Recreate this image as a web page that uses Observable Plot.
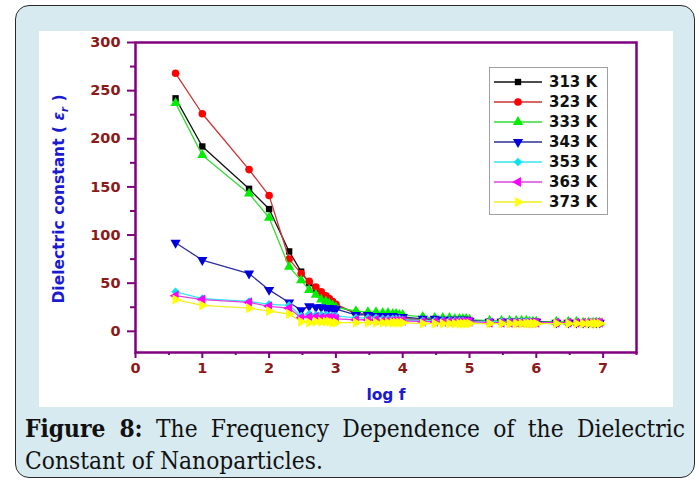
<!DOCTYPE html>
<html>
<head>
<meta charset="utf-8">
<script src="https://cdn.jsdelivr.net/npm/d3@7"></script>
<script src="https://cdn.jsdelivr.net/npm/@observablehq/plot@0.6"></script>
<style>
  html, body { margin: 0; padding: 0; width: 699px; height: 481px; overflow: hidden; background: #ffffff; }
  #outer { position: absolute; left: 15px; top: 5px; width: 678px; height: 471px; border: 1.5px solid #2a2a2a; border-radius: 14px; background: #d6eaf0; }
  #panel { position: absolute; left: 39px; top: 31px; width: 634px; height: 376px; background: #ffffff; }
  #ylabel { position: absolute; left: 60px; top: 199px; transform: translate(-50%, -50%) rotate(-90deg); white-space: nowrap; font: bold 15.5px "DejaVu Sans", sans-serif; color: #1a1ad0; }
  #ylabel sub { font-size: 10px; }
  #legend { position: absolute; left: 489px; top: 67px; }
  #caption { position: absolute; left: 25px; top: 413px; width: 660px; font-family: "DejaVu Serif Condensed", "DejaVu Serif", serif; font-stretch: semi-condensed; font-size: 21px; line-height: 32px; color: #111; }
  #caption .l1 { text-align: justify; text-align-last: justify; white-space: nowrap; }
  #caption .l2 { white-space: nowrap; }
</style>
</head>
<body>
<div id="outer"></div>
<div id="panel"></div>
<div id="ylabel">Dielectric constant ( <i>ε</i><sub><i>r</i></sub> )</div>
<div id="legend"></div>
<div id="caption"><div class="l1"><b>Figure 8:</b> The Frequency Dependence of the Dielectric</div><div class="l2"><span id="l2span">Constant of Nanoparticles.</span></div></div>
<script>
// ---- data ----
const logF = [0.60,1.00,1.70,2.00, 2.30,2.48,2.60,2.70,2.78,2.85,2.90,2.95,3.00, 3.30,3.48,3.60,3.70,3.78,3.85,3.90,3.95,4.00, 4.30,4.48,4.60,4.70,4.78,4.85,4.90,4.95,5.00, 5.30,5.48,5.60,5.70,5.78,5.85,5.90,5.95,6.00, 6.30,6.48,6.60,6.70,6.78,6.85,6.90,6.95];
const eps313 = [242,192,148,127, 83,62,50,44,40,36,33,30,27, 19,17,16,15,15,14,14,14,13, 12,12,11,11,11,11,11,11,11, 10,10,10,10,10,10,10,10,10, 9,9,9,9,9,9,9,9];
const eps323 = [268,226,168,141, 75,60,52,46,41,37,34,31,28, 19,17,16,15,15,14,14,14,13, 12,12,11,11,11,11,11,11,11, 10,10,10,10,10,10,10,10,10, 9,9,9,9,9,9,9,9];
const eps333 = [237,183,143,118, 67,53,43,38,33,31,29,27,25, 21,20,20,19,19,18,18,17,17, 15,14,14,14,13,13,13,13,12, 11,11,11,11,11,11,10,10,10, 10,10,10,9,9,9,9,9];
const eps343 = [92,74,60,43, 30,22,26,25,25,24,24,24,23, 17,17,16,16,16,16,15,15,15, 13,13,12,12,12,12,12,12,11, 10,10,10,10,10,10,10,10,10, 9,9,9,9,9,9,9,9];
const eps353 = [41,34,31,28, 27,16,18,17,17,17,16,16,16, 14,14,14,13,13,13,13,13,12, 11,11,11,11,11,11,11,10,10, 10,10,10,10,10,10,10,9,9, 9,9,9,9,9,9,9,9];
const eps363 = [37,33,30,26, 24,14,15,15,14,14,14,14,13, 12,12,12,11,11,11,11,11,11, 10,10,10,10,10,10,10,10,10, 9,9,9,9,9,9,9,9,9, 9,9,9,9,9,9,9,9];
const eps373 = [33,27,24,21, 18,10,9,10,10,10,10,9,9, 9,9,9,9,9,9,9,9,9, 8,8,8,8,8,8,8,8,8, 8,8,8,8,8,8,8,8,8, 8,8,8,8,8,8,8,8];
const seriesNames = ["313 K","323 K","333 K","343 K","353 K","363 K","373 K"];
const yTicks = [0,50,100,150,200,250,300];
const yMinorTicks = [-25,25,75,125,175,225,275];
const xTicks = [0,1,2,3,4,5,6,7];
const xMinorTicks = [0.5,1.5,2.5,3.5,4.5,5.5,6.5,7.5];

// ---- symbols ----
const s3 = Math.sqrt(3);
const triDown = {draw(c, size){ const y = -Math.sqrt(size/(s3*3)); c.moveTo(0,-2*y); c.lineTo(-s3*y,y); c.lineTo(s3*y,y); c.closePath(); }};
const triLeft = {draw(c, size){ const y = -Math.sqrt(size/(s3*3)); c.moveTo(2*y,0); c.lineTo(-y,-s3*y); c.lineTo(-y,s3*y); c.closePath(); }};
const triRight = {draw(c, size){ const y = -Math.sqrt(size/(s3*3)); c.moveTo(-2*y,0); c.lineTo(y,-s3*y); c.lineTo(y,s3*y); c.closePath(); }};
const diamond = {draw(c, size){ const h = Math.sqrt(size)/Math.SQRT2; c.moveTo(0,-h); c.lineTo(h,0); c.lineTo(0,h); c.lineTo(-h,0); c.closePath(); }};

const styles = [
  {line:"#111111", fill:"#000000", symbol:d3.symbolSquare, r:3.6},
  {line:"#cc3333", fill:"#ff0000", symbol:d3.symbolCircle, r:3.8},
  {line:"#33dd33", fill:"#00ee00", symbol:d3.symbolTriangle, r:3.8},
  {line:"#2e2e9e", fill:"#0000dd", symbol:triDown, r:3.8},
  {line:"#33e6ee", fill:"#00e5ee", symbol:diamond, r:3.4},
  {line:"#dd44dd", fill:"#ff00ff", symbol:triLeft, r:3.8},
  {line:"#eeee22", fill:"#ffff00", symbol:triRight, r:3.8}
];
const values = [eps313, eps323, eps333, eps343, eps353, eps363, eps373];

const purple = "#800080";
const darkRed = "#8b1a1a";
const marks = [];
values.forEach((vals, i) => {
  const data = logF.map((x, j) => ({x, y: vals[j]}));
  const st = styles[i];
  marks.push(Plot.line(data, {x: "x", y: "y", stroke: st.line, strokeWidth: 1.3}));
  marks.push(Plot.dot(data, {x: "x", y: "y", fill: st.fill, stroke: "none", symbol: st.symbol, r: st.r}));
});

const chart = Plot.plot({
  width: 634, height: 376,
  marginLeft: 96, marginRight: 37, marginTop: 11, marginBottom: 55,
  style: {background: "white", fontFamily: "DejaVu Sans, sans-serif", overflow: "visible"},
  x: {domain: [0, 7.5]},
  y: {domain: [-22, 300]},
  marks: [
    Plot.axisY({ticks: yTicks, tickSize: 8, tickPadding: 7, stroke: purple, strokeWidth: 2, fill: darkRed, fontWeight: "bold", fontSize: 14.5, label: null}),
    Plot.axisY({ticks: yMinorTicks.filter(t => t > -22), tickSize: 5, tickFormat: () => "", stroke: purple, strokeWidth: 2, label: null}),
    Plot.axisX({ticks: xTicks, tickSize: 6, tickPadding: 4, stroke: purple, strokeWidth: 2, fill: darkRed, fontWeight: "bold", fontSize: 14.5, label: null}),
    Plot.axisX({ticks: xMinorTicks, tickSize: 3, tickFormat: () => "", stroke: purple, strokeWidth: 2, label: null}),
    ...marks,
    Plot.frame({stroke: purple, strokeWidth: 2.5}),
    Plot.text(["log f"], {frameAnchor: "bottom", dy: 47, fill: "#1a1ad0", fontWeight: "bold", fontSize: 15.5})
  ]
});
document.getElementById("panel").appendChild(chart);

// ---- legend ----
const lg = d3.select("#legend").append("svg").attr("width", 119).attr("height", 148);
lg.append("rect").attr("x", 0.5).attr("y", 0.5).attr("width", 118).attr("height", 147).attr("fill", "white").attr("stroke", "#a0a0a0");
seriesNames.forEach((name, i) => {
  const cy = 15 + i * 20;
  const st = styles[i];
  lg.append("line").attr("x1", 5).attr("x2", 53).attr("y1", cy).attr("y2", cy).attr("stroke", st.line).attr("stroke-width", 1.3);
  lg.append("path").attr("transform", `translate(29,${cy})`).attr("d", d3.symbol(st.symbol, Math.PI * st.r * st.r)()).attr("fill", st.fill);
  lg.append("text").attr("x", 60).attr("y", cy).attr("dy", "0.36em").attr("font-family", "DejaVu Sans, sans-serif").attr("font-weight", "bold").attr("font-size", 15).attr("fill", "#111").text(name);
});

// ---- fit caption font so the second line spans the reference width (~298px) ----
const cap = document.getElementById("caption");
const l2 = document.getElementById("l2span");
const w = l2.getBoundingClientRect().width;
if (w > 0) {
  const fs = Math.max(18, Math.min(26, 21 * 298 / w));
  cap.style.fontSize = fs.toFixed(2) + "px";
}
</script>
</body>
</html>
